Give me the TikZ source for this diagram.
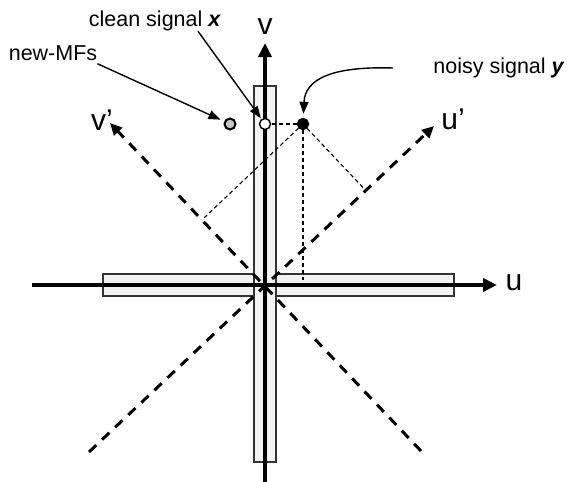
\documentclass[tikz,border=0pt]{standalone}
\usepackage{fontspec}
\setmainfont{Liberation Sans}
\usetikzlibrary{arrows.meta,calc}

\begin{document}
\begin{tikzpicture}[x=1pt, y=-1pt,
    band/.style={draw=black!80, line width=1.2pt, fill=black!5},
    axis/.style={line width=3.6pt, -{Triangle[length=14pt,width=13pt]}},
    diagaxis/.style={line width=3pt, dash pattern=on 10pt off 8pt, -{Triangle[length=12pt,width=11pt]}},
    proj/.style={line width=1.1pt, dash pattern=on 4pt off 3pt},
    annot/.style={line width=1.4pt, -{Triangle[length=12pt,width=9pt]}},
    sig/.style={circle, draw, line width=1.4pt, minimum size=11pt, inner sep=0pt},
    axlabel/.style={font=\fontsize{30}{32}\selectfont, inner sep=0pt},
    note/.style={font=\fontsize{21.5}{24}\selectfont, inner sep=0pt}]
        \useasboundingbox (0,0) rectangle (568,482);

        % coordinate frame
        \coordinate (uL) at (32,285);
        \coordinate (uR) at (497,285);
        \coordinate (vB) at (265,482);
        \coordinate (vT) at (265,43);
        \coordinate (upA) at (89,452);
        \coordinate (upB) at (434,126);
        \coordinate (vpA) at (421,451);
        \coordinate (vpB) at (110,123);

        \draw[band] (103,274) rectangle (454,296);
        \draw[band] (254,86) rectangle (276,462);

        \draw[diagaxis] (upA) -- (upB);
        \draw[diagaxis] (vpA) -- (vpB);
        \draw[axis] (uL) -- (uR);
        \draw[axis] (vB) -- (vT);

        \node[axlabel] (lu) at (514,283) {u};
        \node[axlabel] (lv) at (265,27) {v};
        \node[axlabel] (lup) at (453,119) {u’};
        \node[axlabel] (lvp) at (102,120) {v’};

        % signals
        \node[sig, fill=white] (clean) at (265,124) {};
        \node[sig, fill=black] (noisy) at (303,124) {};
        \node[sig, fill=black!22, line width=2pt] (newmf) at (230,124) {};

        \draw[proj] (noisy) -- (clean);
        \draw[proj, shorten >=5pt] (noisy) -- ($(uL)!(noisy)!(uR)$);
        \draw[proj] (noisy) -- ($(upA)!(noisy)!(upB)$);
        \draw[proj] (noisy) -- ($(vpA)!(noisy)!(vpB)$);

        % annotations
        \node[note] (lblclean) at (155,21) {clean signal \textbf{\textit{x}}};
        \node[note] (lblnew) at (53,53) {new-MFs};
        \node[note] (lblnoisy) at (499,68) {noisy signal \textbf{\textit{y}}};

        \draw[annot, shorten >=1pt] ([xshift=43pt]lblclean.south) -- (clean);
        \draw[annot, shorten >=4pt] ([yshift=-3pt]lblnew.south east) -- (newmf);
        \draw[annot, shorten >=4pt] ([xshift=-40pt]lblnoisy.west) .. controls (330,66) and (305,80) .. (noisy);
\end{tikzpicture}
\end{document}
